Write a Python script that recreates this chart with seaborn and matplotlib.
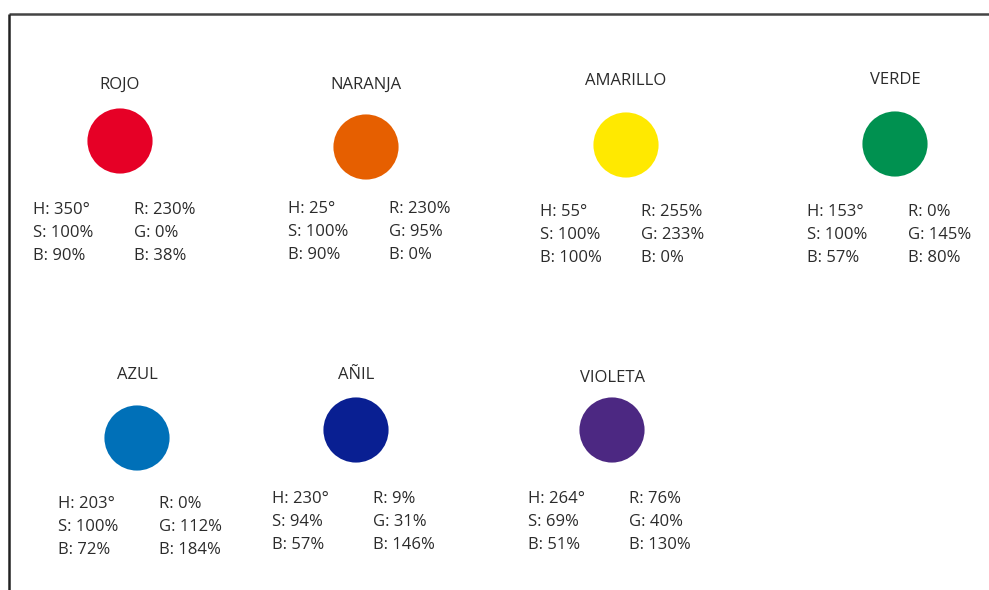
import matplotlib
matplotlib.use("Agg")
import matplotlib.pyplot as plt
import seaborn as sns
import pandas as pd

sns.set_theme(style="white")
plt.rcParams['font.family'] = ['Open Sans', 'DejaVu Sans']

# Data
names = ['ROJO', 'NARANJA', 'AMARILLO', 'VERDE', 'AZUL', 'AÑIL', 'VIOLETA']
hue_deg = [350, 25, 55, 153, 203, 230, 264]
sat_pct = [100, 100, 100, 100, 100, 94, 69]
bri_pct = [90, 90, 100, 57, 72, 57, 51]
red = [230, 230, 255, 0, 0, 9, 76]
green = [0, 95, 233, 145, 112, 31, 40]
blue = [38, 0, 0, 80, 184, 146, 130]

# Layout (pixel centres of each swatch, label and text block)
circle_x = [120, 366, 626, 895, 137, 356, 612]
circle_y = [141, 147, 145, 144, 438, 430, 430]
label_y = [85, 85, 81, 80, 375, 375, 378]
text_x = [33, 288, 540, 807, 58, 272, 528]
text_y = [210, 209, 212, 212, 504, 499, 499]
col_gap = 101
row_gap = 23

df = pd.DataFrame({'name': names, 'x': circle_x, 'y': circle_y})
palette = {n: (r / 255, g / 255, b / 255) for n, r, g, b in zip(names, red, green, blue)}

fig = plt.figure(figsize=(9.89, 5.90), dpi=100)
ax = fig.add_axes([0, 0, 1, 1])
ax.set_xlim(0, 989)
ax.set_ylim(590, 0)
ax.axis('off')

sns.scatterplot(data=df, x='x', y='y', hue='name', palette=palette, s=2200,
                linewidth=0, legend=False, ax=ax)

txt = '#2b2b2b'
fs = 12
for i, n in enumerate(names):
    ax.text(circle_x[i], label_y[i], n, ha='center', va='center', fontsize=fs, color=txt)
    left = [f'H: {hue_deg[i]}°', f'S: {sat_pct[i]}%', f'B: {bri_pct[i]}%']
    right = [f'R: {red[i]}%', f'G: {green[i]}%', f'B: {blue[i]}%']
    for k in range(3):
        ax.text(text_x[i], text_y[i] + k * row_gap, left[k], ha='left', va='center',
                fontsize=fs, color=txt)
        ax.text(text_x[i] + col_gap, text_y[i] + k * row_gap, right[k], ha='left',
                va='center', fontsize=fs, color=txt)

# frame lines (top and left)
ax.plot([9, 989], [14, 14], color='#444444', lw=1.8, solid_capstyle='butt')
ax.plot([9, 9], [14, 590], color='#222222', lw=1.8, solid_capstyle='butt')

fig.savefig('out.png', dpi=100)
